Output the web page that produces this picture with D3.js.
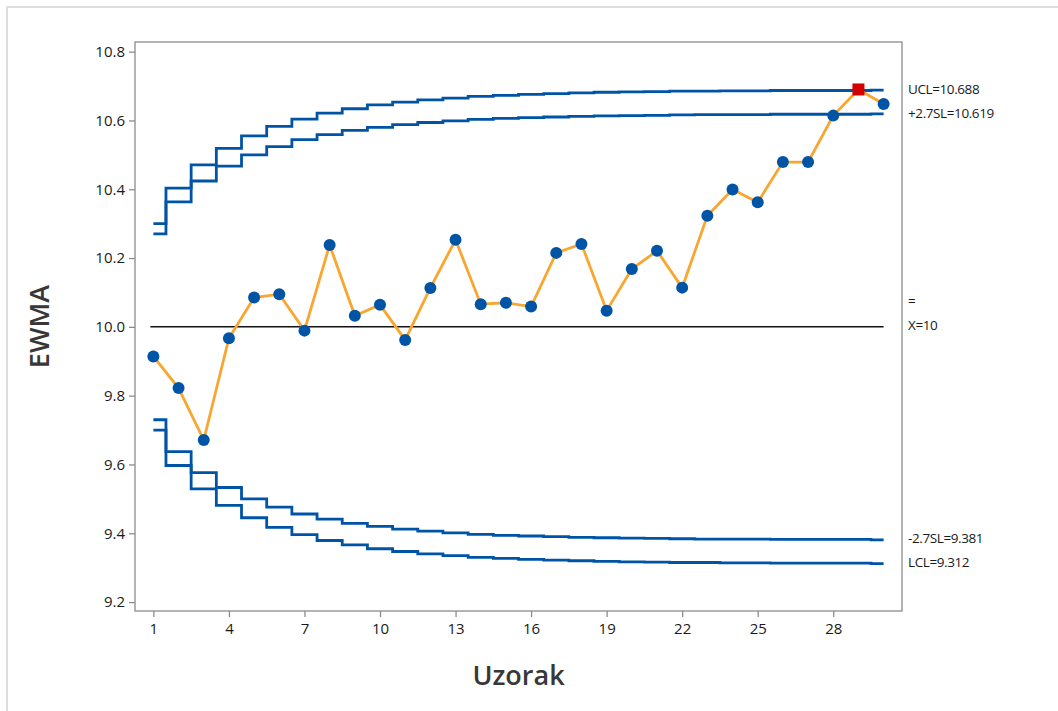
<!DOCTYPE html>
<html>
<head>
<meta charset="utf-8">
<script src="https://cdn.jsdelivr.net/npm/d3@7"></script>
<style>
  body { margin: 0; background: #fff; }
  text { font-family: "Open Sans", "Noto Sans", sans-serif; }
</style>
</head>
<body>
<div id="chart"></div>
<script>
// Data
const samples = d3.range(1, 31);
const ewma = [9.914, 9.822, 9.671, 9.967, 10.085, 10.095, 9.989, 10.238, 10.032, 10.064,
  9.962, 10.113, 10.253, 10.066, 10.070, 10.059, 10.215, 10.241, 10.047, 10.168,
  10.221, 10.114, 10.323, 10.399, 10.362, 10.479, 10.479, 10.614, 10.690, 10.648];
const ucl = [10.300, 10.403, 10.471, 10.519, 10.555, 10.583, 10.604, 10.621, 10.634, 10.645,
  10.653, 10.660, 10.665, 10.670, 10.673, 10.676, 10.678, 10.680, 10.682, 10.683,
  10.684, 10.685, 10.685, 10.686, 10.686, 10.687, 10.687, 10.687, 10.687, 10.688];
const upper27 = [10.270, 10.363, 10.424, 10.467, 10.500, 10.524, 10.544, 10.559, 10.571, 10.580,
  10.588, 10.594, 10.599, 10.603, 10.606, 10.608, 10.610, 10.612, 10.613, 10.614,
  10.615, 10.616, 10.617, 10.617, 10.617, 10.618, 10.618, 10.618, 10.618, 10.619];
const lower27 = [9.730, 9.637, 9.576, 9.533, 9.500, 9.476, 9.456, 9.441, 9.429, 9.420,
  9.412, 9.406, 9.401, 9.397, 9.394, 9.392, 9.390, 9.388, 9.387, 9.386,
  9.385, 9.384, 9.383, 9.383, 9.383, 9.382, 9.382, 9.382, 9.382, 9.381];
const lcl = [9.700, 9.597, 9.529, 9.481, 9.445, 9.417, 9.396, 9.379, 9.366, 9.355,
  9.347, 9.340, 9.335, 9.330, 9.327, 9.324, 9.322, 9.320, 9.318, 9.317,
  9.316, 9.315, 9.315, 9.314, 9.314, 9.313, 9.313, 9.313, 9.313, 9.312];
const centerValue = 10;
const xTicks = [1, 4, 7, 10, 13, 16, 19, 22, 25, 28];
const yTicks = [9.2, 9.4, 9.6, 9.8, 10.0, 10.2, 10.4, 10.6, 10.8];
const limitLabels = [
  { value: 10.688, text: "UCL=10.688" },
  { value: 10.619, text: "+2.7SL=10.619" },
  { value: 10.0, text: "X=10", bar: true },
  { value: 9.381, text: "-2.7SL=9.381" },
  { value: 9.312, text: "LCL=9.312" },
];

// Dimensions
const width = 1058, height = 711;
const plot = { left: 135, top: 42, right: 902, bottom: 611 };

const svg = d3.select("#chart").append("svg")
  .attr("width", width).attr("height", height);

// outer frame (top and left edges only visible)
svg.append("path")
  .attr("d", `M7,${height} V7 H${width}`)
  .attr("fill", "none").attr("stroke", "#dedede").attr("stroke-width", 2);

// Scales
const xScale = d3.scaleLinear().domain([0.27, 30.73]).range([plot.left, plot.right]);
const yScale = d3.scaleLinear().domain([9.174, 10.828]).range([plot.bottom, plot.top]);

// Frame
svg.append("rect")
  .attr("x", plot.left).attr("y", plot.top)
  .attr("width", plot.right - plot.left).attr("height", plot.bottom - plot.top)
  .attr("fill", "none").attr("stroke", "#8c8c8c").attr("stroke-width", 1.3);

// Axes
const xAxis = svg.append("g")
  .attr("transform", `translate(0,${plot.bottom})`)
  .call(d3.axisBottom(xScale).tickValues(xTicks).tickSize(6).tickPadding(6).tickSizeOuter(0));
const yAxis = svg.append("g")
  .attr("transform", `translate(${plot.left},0)`)
  .call(d3.axisLeft(yScale).tickValues(yTicks).tickFormat(d3.format(".1f")).tickSize(6).tickPadding(4).tickSizeOuter(0));
[xAxis, yAxis].forEach((g) => {
  g.select(".domain").remove();
  g.selectAll(".tick line").attr("stroke", "#8c8c8c").attr("stroke-width", 1.3);
  g.selectAll(".tick text").attr("fill", "#1a1a1a").style("font-size", "15px")
    .style("font-family", "'Open Sans', sans-serif");
});

svg.append("text")
  .attr("transform", `translate(42,${(plot.top + plot.bottom) / 2}) rotate(-90)`)
  .attr("text-anchor", "middle").attr("dominant-baseline", "middle")
  .attr("fill", "#383838").style("font-size", "27px").style("font-weight", 600)
  .text("EWMA");
svg.append("text")
  .attr("x", (plot.left + plot.right) / 2).attr("y", 685)
  .attr("text-anchor", "middle")
  .attr("fill", "#383838").style("font-size", "27px").style("font-weight", 600)
  .text("Uzorak");

// Limit lines (stepped)
const stepLine = d3.line()
  .x((d, i) => xScale(samples[i]))
  .y((d) => yScale(d))
  .curve(d3.curveStep);

[ucl, upper27, lower27, lcl].forEach((series) => {
  svg.append("path")
    .datum(series)
    .attr("d", stepLine)
    .attr("fill", "none")
    .attr("stroke", "#0054a6")
    .attr("stroke-width", 2.8);
});

// Center line
svg.append("line")
  .attr("x1", xScale(samples[0]) - 3).attr("x2", xScale(samples[samples.length - 1]))
  .attr("y1", yScale(centerValue)).attr("y2", yScale(centerValue))
  .attr("stroke", "#111").attr("stroke-width", 1.5);

// EWMA line
const ewmaLine = d3.line()
  .x((d, i) => xScale(samples[i]))
  .y((d) => yScale(d));

svg.append("path")
  .datum(ewma)
  .attr("d", ewmaLine)
  .attr("fill", "none")
  .attr("stroke", "#f8a630")
  .attr("stroke-width", 2.8);

// Points
const outOfControl = (d, i) => d > ucl[i] || d < lcl[i];

svg.append("g").selectAll("circle")
  .data(ewma.map((v, i) => ({ v, i })).filter((d) => !outOfControl(d.v, d.i)))
  .join("circle")
  .attr("cx", (d) => xScale(samples[d.i]))
  .attr("cy", (d) => yScale(d.v))
  .attr("r", 6)
  .attr("fill", "#0054a6");

svg.append("g").selectAll("rect")
  .data(ewma.map((v, i) => ({ v, i })).filter((d) => outOfControl(d.v, d.i)))
  .join("rect")
  .attr("x", (d) => xScale(samples[d.i]) - 6)
  .attr("y", (d) => yScale(d.v) - 6)
  .attr("width", 12).attr("height", 12)
  .attr("fill", "#d40000");

// Right labels
const labels = svg.append("g").style("font-size", "13.5px").style("letter-spacing", "-0.4px").attr("fill", "#1a1a1a");
limitLabels.forEach((l) => {
  labels.append("text")
    .attr("x", 908).attr("y", yScale(l.value))
    .attr("dominant-baseline", "middle")
    .text(l.text);
  if (l.bar) {
    labels.append("text")
      .attr("x", 908).attr("y", yScale(l.value) - 24)
      .attr("dominant-baseline", "middle")
      .text("=");
  }
});
</script>
</body>
</html>
